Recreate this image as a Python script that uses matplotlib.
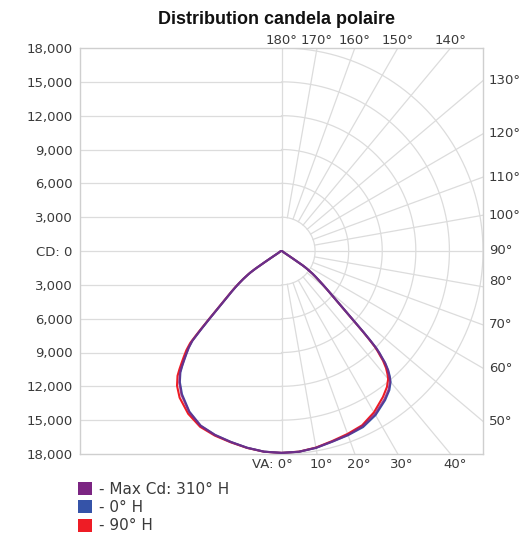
import numpy as np
import matplotlib
matplotlib.use("Agg")
import matplotlib.pyplot as plt
from matplotlib.patches import Patch

# ---------------- data ----------------
title = "Distribution candela polaire"
cd_tick_labels = ["18,000", "15,000", "12,000", "9,000", "6,000", "3,000", "CD: 0",
                  "3,000", "6,000", "9,000", "12,000", "15,000", "18,000"]
top_angles = [180, 170, 160, 150, 140]
right_angles = [130, 120, 110, 100, 90, 80, 70, 60, 50]
bottom_angles = [0, 10, 20, 30, 40]

# vertical angles (deg from nadir)
va = [0, 5, 10, 15, 20, 25, 30, 35, 38, 40, 41, 42, 43, 43.5, 44, 44.5, 45, 45.5, 46, 47, 48,
      49, 50, 51, 52, 53, 54, 55, 55.5, 56, 56.5, 57, 57.5, 58, 60, 65, 70, 75, 80, 85, 90]

# Max Cd: 310° H  (right half = 310° H, left half = 130° H)
maxcd_right = [17900, 17870, 17720, 17490, 17350, 17130, 16700, 16040, 15560, 15070, 14660,
               14170, 13510, 13000, 12560, 12030, 11160, 10240, 9300, 7830, 6760, 5960, 5330,
               4770, 4270, 3850, 3430, 2920, 2650, 2290, 1320, 800, 490, 340, 200, 130, 90, 70,
               50, 40, 30]
maxcd_left = [17900, 17860, 17720, 17530, 17370, 17110, 16500, 15580, 14830, 14130, 13600,
              13040, 12500, 12230, 11980, 11640, 11300, 10620, 9970, 8770, 7750, 6940, 6280,
              5750, 5240, 4720, 4220, 3650, 3350, 2820, 1760, 1050, 665, 435, 270, 160, 110, 80,
              60, 40, 30]
# 0° H  (right half = 0° H, left half = 180° H)
h0_right = [17900, 17870, 17730, 17510, 17380, 17230, 16800, 16140, 15650, 15160, 14750, 14260,
            13590, 13080, 12640, 12100, 11230, 10300, 9350, 7870, 6790, 5990, 5350, 4790, 4280,
            3860, 3440, 2930, 2660, 2300, 1330, 800, 490, 340, 200, 130, 90, 70, 50, 40, 30]
h0_left = [17900, 17860, 17710, 17520, 17350, 17080, 16450, 15500, 14750, 14050, 13520, 12970,
           12440, 12170, 11920, 11580, 11250, 10560, 9920, 8730, 7710, 6900, 6250, 5720, 5210,
           4690, 4200, 3630, 3330, 2800, 1750, 1050, 660, 430, 270, 160, 110, 80, 60, 40, 30]
# 90° H  (right half = 90° H, left half = 270° H)
h90_right = [17900, 17860, 17700, 17450, 17260, 17050, 16520, 15800, 15300, 14820, 14420, 13950,
             13300, 12810, 12390, 11870, 11040, 10150, 9240, 7800, 6740, 5950, 5320, 4760, 4260,
             3840, 3420, 2910, 2640, 2280, 1320, 800, 490, 340, 200, 130, 90, 70, 50, 40, 30]
h90_left = [17900, 17870, 17730, 17560, 17420, 17200, 16670, 15870, 15160, 14450, 13900, 13330,
            12780, 12500, 12240, 11880, 11530, 10820, 10150, 8870, 7820, 7000, 6340, 5800, 5280,
            4760, 4260, 3680, 3380, 2840, 1770, 1060, 670, 440, 270, 160, 110, 80, 60, 40, 30]

series_labels = ["- Max Cd: 310° H", "- 0° H", "- 90° H"]
series_colors = ["#7B2582", "#3553A8", "#EE1C25"]

# ---------------- figure ----------------
W, H = 527, 537
fig = plt.figure(figsize=(W / 100, H / 100), dpi=100)
ax = fig.add_axes([80 / W, 1 - 454 / H, 403 / W, 406 / H])
R = 18000
ax.set_xlim(-R, R)
ax.set_ylim(-R, R)

grid_c = "#dcdcdc"
text_c = "#3a3a3a"
for s in ax.spines.values():
    s.set_color("#cfcfcf")
    s.set_linewidth(1.0)

# left half horizontal lines
for v in range(3000, R, 3000):
    ax.plot([-R, 0], [v, v], color=grid_c, lw=0.9, zorder=1)
    ax.plot([-R, 0], [-v, -v], color=grid_c, lw=0.9, zorder=1)
ax.axhline(0, color=grid_c, lw=0.9, zorder=1)
ax.axvline(0, color=grid_c, lw=0.9, zorder=1)

# right half polar grid
th = np.radians(np.linspace(0, 180, 361))
for r in range(3000, R + 1, 3000):
    ax.plot(r * np.sin(th), -r * np.cos(th), color=grid_c, lw=0.9, zorder=1)
for a in range(10, 180, 10):
    if a == 90:
        continue
    t = np.radians(a)
    ax.plot([3000 * np.sin(t), 40000 * np.sin(t)], [-3000 * np.cos(t), -40000 * np.cos(t)],
            color=grid_c, lw=0.9, zorder=1)


def curve(right, left):
    a = np.radians(np.array(va))
    r_r = np.array(right, float)
    r_l = np.array(left, float)
    x = np.concatenate([-(r_l * np.sin(a))[::-1], r_r * np.sin(a)])
    y = np.concatenate([-(r_l * np.cos(a))[::-1], -r_r * np.cos(a)])
    return x, y


order = [(h90_right, h90_left, 2), (h0_right, h0_left, 1), (maxcd_right, maxcd_left, 0)]
for rr, ll, ci in order:
    x, y = curve(rr, ll)
    ax.plot(x, y, color=series_colors[ci], lw=1.5, zorder=3 + (2 - ci),
            alpha=0.8 if ci == 0 else 1.0, solid_joinstyle="round", solid_capstyle="round")

# y ticks
ax.set_yticks([R - 3000 * i for i in range(13)])
ax.set_yticklabels(cd_tick_labels)
ax.set_xticks([])
ax.tick_params(axis="y", length=0, pad=5.5, labelsize=9.5, labelcolor=text_c)


def edge_point(a_deg):
    t = np.radians(a_deg)
    dx, dy = np.sin(t), -np.cos(t)
    ts = []
    if dx > 1e-9:
        ts.append(R / dx)
    if dy > 1e-9:
        ts.append(R / dy)
    if dy < -1e-9:
        ts.append(R / -dy)
    k = min(ts)
    return dx * k, dy * k


pt = 72 / 100  # px -> points
fs = 9.5
for a in top_angles:
    x, y = edge_point(a)
    ax.annotate(f"{a}°", (x, y), xytext=(0, 1 * pt), textcoords="offset points",
                ha="center", va="bottom", fontsize=fs, color=text_c, annotation_clip=False)
right_nudge = {80: 5}
for a in right_angles:
    x, y = edge_point(a)
    ax.annotate(f"{a}°", (x, y), xytext=(6 * pt, right_nudge.get(a, 0) * pt),
                textcoords="offset points", ha="left", va="center", fontsize=fs,
                color=text_c, annotation_clip=False)
for a in bottom_angles:
    x, y = edge_point(a)
    if a == 0:
        ax.annotate("VA: 0°", (x, y), xytext=(11 * pt, -4 * pt), textcoords="offset points",
                    ha="right", va="top", fontsize=fs, color=text_c, annotation_clip=False)
    else:
        ax.annotate(f"{a}°", (x, y), xytext=(4 * pt, -4 * pt), textcoords="offset points",
                    ha="center", va="top", fontsize=fs, color=text_c, annotation_clip=False)

fig.text(276 / W, 1 - 20 / H, title, ha="center", va="center", fontsize=13,
         fontweight="bold", family="Liberation Sans", color="#111111")

handles = [Patch(facecolor=c, edgecolor="none") for c in series_colors]
fig.legend(handles, series_labels, loc="upper left", bbox_to_anchor=(67 / W, 1 - 471 / H),
           frameon=False, fontsize=11, handlelength=0.92, handleheight=0.92, handletextpad=0.5,
           labelspacing=0.22, borderpad=0.2, labelcolor=text_c)

fig.savefig("out.png", dpi=100, facecolor="white")
